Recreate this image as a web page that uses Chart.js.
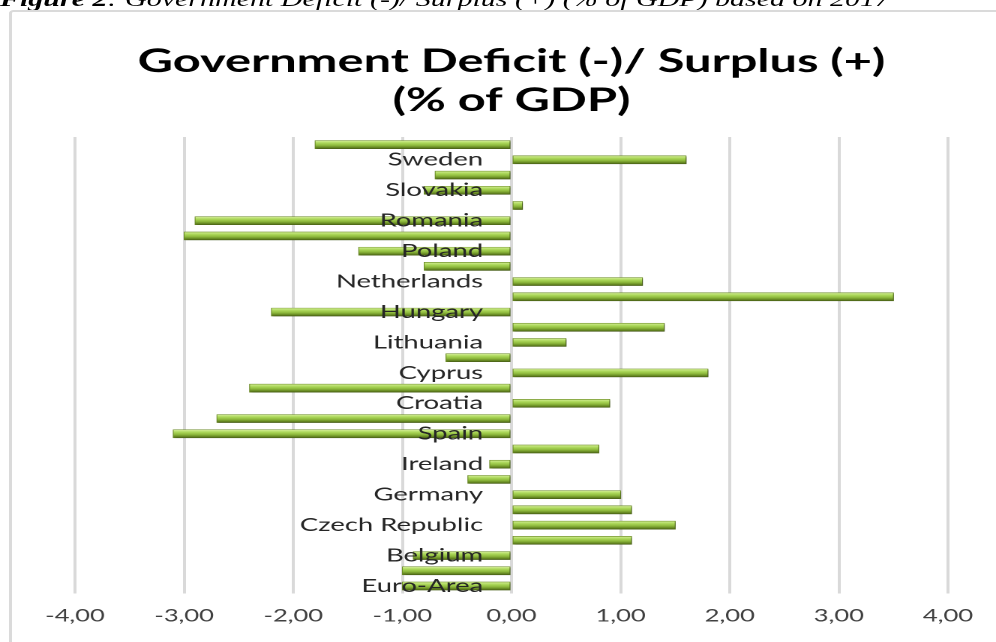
<!DOCTYPE html>
<html>
<head>
<meta charset="utf-8">
<script src="https://cdn.jsdelivr.net/npm/chart.js@4.4.1/dist/chart.umd.min.js"></script>
<style>
  html, body { margin: 0; padding: 0; background: #fff; overflow: hidden; width: 996px; height: 642px; }
  /* the whole sheet is drawn narrow and widened, like the original figure */
  #sheet { position: absolute; left: 0; top: 0; width: 664px; height: 642px; transform: scaleX(1.5); transform-origin: 0 0; }
  #caption { position: absolute; left: 0; top: -11px; white-space: nowrap; font: italic 20px "Liberation Serif", serif; line-height: 20px; color: #000; }
  #frame { position: absolute; left: 6px; top: 10px; width: 720px; height: 700px; border: 2px solid #dadada; border-radius: 3px; }
  #deficit { position: absolute; left: 0; top: 0; }
</style>
</head>
<body>
<div id="sheet">
  <div id="caption"><b>Figure 2</b>: Government Deficit (-)/ Surplus (+) (% of GDP) based on 2017</div>
  <div id="frame"></div>
  <canvas id="deficit" width="664" height="642"></canvas>
</div>
<script>
// categories from bottom to top, only every second one gets a label
let countries = ['Euro-Area', 'EU-28', 'Belgium', 'Bulgaria', 'Czech Republic', 'Denmark', 'Germany', 'Estonia',
  'Ireland', 'Greece', 'Spain', 'France', 'Croatia', 'Italy', 'Cyprus', 'Latvia', 'Lithuania', 'Luxembourg',
  'Hungary', 'Malta', 'Netherlands', 'Austria', 'Poland', 'Portugal', 'Romania', 'Slovenia', 'Slovakia',
  'Finland', 'Sweden', 'United Kingdom'];
let balance2017 = [-1.0, -1.0, -0.9, 1.1, 1.5, 1.1, 1.0, -0.4, -0.2, 0.8, -3.1, -2.7, 0.9, -2.4, 1.8, -0.6, 0.5, 1.4,
  -2.2, 3.5, 1.2, -0.8, -1.4, -3.0, -2.9, 0.1, -0.8, -0.7, 1.6, -1.8];
let xTicks = [-4, -3, -2, -1, 0, 1, 2, 3, 4];
let titleLines = ['Government Deficit (-)/ Surplus (+)', '(% of GDP)'];

// green tube look: light on top, dark olive at the bottom
function barFill(context)
{
  let chart = context.chart;
  let yScale = chart.scales.y;
  if (!chart.chartArea || !yScale || context.dataIndex === undefined)
  {
    return '#9cc64c';
  }
  let yc = yScale.getPixelForValue(context.dataIndex);
  let g = chart.ctx.createLinearGradient(0, yc - 4, 0, yc + 4);
  g.addColorStop(0, '#d4ee98');
  g.addColorStop(0.3, '#acd85a');
  g.addColorStop(0.6, '#8db83c');
  g.addColorStop(1, '#4f6b14');
  return g;
}

// soft drop shadow under the bars
let barShadow = {
  id: 'barShadow',
  beforeDatasetsDraw(chart) {
    let ctx = chart.ctx;
    ctx.save();
    ctx.shadowColor = 'rgba(0,0,0,0.4)';
    ctx.shadowBlur = 3;
    ctx.shadowOffsetX = 1.5;
    ctx.shadowOffsetY = 2;
  },
  afterDatasetsDraw(chart) {
    chart.ctx.restore();
  }
};

let ctx = document.getElementById('deficit').getContext('2d');
let deficitChart = new Chart(ctx, {
  type: 'bar',
  data: {
    labels: countries,
    datasets: [{
      data: balance2017,
      backgroundColor: barFill,
      borderColor: '#6a8a24',
      borderWidth: 0.6,
      borderSkipped: false,
      barThickness: 8
    }]
  },
  plugins: [barShadow],
  options: {
    indexAxis: 'y',
    responsive: false,
    devicePixelRatio: 2,
    animation: false,
    layout: {
      padding: {left: 50, right: 32, top: 0, bottom: 4}
    },
    plugins: {
      legend: {display: false},
      tooltip: {enabled: false},
      title: {
        display: true,
        text: titleLines,
        color: '#000',
        font: {family: 'Lato', weight: 'bold', size: 32.5, lineHeight: 1.2},
        padding: {top: 42, bottom: 17}
      }
    },
    scales: {
      x: {
        min: -4,
        max: 4,
        afterBuildTicks: (scale) => { scale.ticks = xTicks.map(v => ({value: v})); },
        grid: {color: '#d9d9d9', lineWidth: 2, drawTicks: false},
        border: {display: false},
        ticks: {
          padding: 12,
          color: '#404040',
          font: {family: 'Lato', size: 17},
          callback: (v) => v.toFixed(2).replace('.', ',')
        }
      },
      y: {
        reverse: true,
        // labels sit just left of the zero line, over the bars
        position: {x: -0.26},
        grid: {display: false, drawTicks: false},
        border: {display: false},
        ticks: {
          z: 1,
          autoSkip: false,
          color: '#262626',
          font: {family: 'Lato', size: 18.3},
          callback: (v, i) => i % 2 === 0 ? countries[i] : ''
        }
      }
    }
  }
});
</script>
</body>
</html>
